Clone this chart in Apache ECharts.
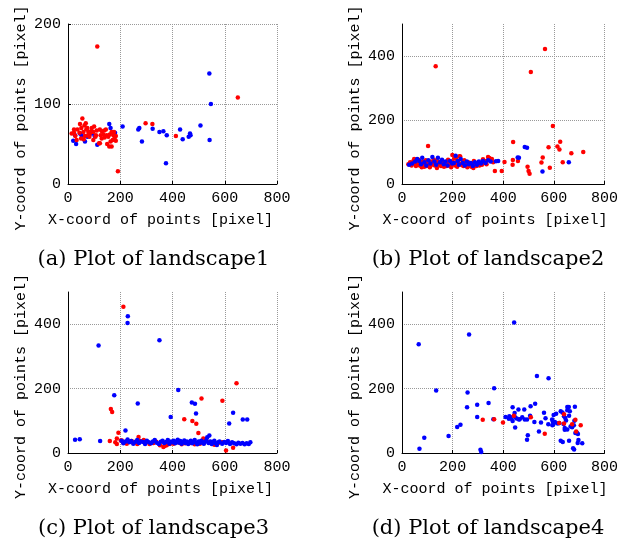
<!DOCTYPE html>
<html>
<head>
<meta charset="utf-8">
<script src="https://cdn.jsdelivr.net/npm/echarts@6/dist/echarts.min.js"></script>
<style>
  html, body { margin: 0; padding: 0; background: #fff; }
  #chart { width: 621px; height: 541px; }
</style>
</head>
<body>
<div id="chart"></div>
<script>
// x ticks shared by all panels
var xTicks = [0, 200, 400, 600, 800];

// landscape1
var redA = [
    [112,172],[650,108],[191,16],[413,60],[297,76],[323,75],
    [14,63],[23,64],[28,60],[23,68],[46,75],[55,82],[51,70],[44,64],[59,65],[68,76],
    [70,68],[78,65],[84,63],[77,61],[91,70],[100,72],[110,67],[105,59],[119,51],[122,51],
    [129,57],[135,62],[139,67],[145,68],[148,61],[154,59],[150,50],[158,47],[163,53],[167,65],
    [174,61],[171,55],[176,65],[183,60],[167,47],[183,54],[36,68],[63,73],[74,70],[82,59],
    [50,57],[33,55],[97,55],[107,61],[125,61],[122,68],[65,60],[97,65],[60,56],[88,66],
    [140,58],[160,62],[178,57],[130,66]
];
var blueA = [
    [20,54],[27,61],[31,50],[52,61],[65,53],[74,59],[91,63],[158,75],[163,70],[180,64],
    [112,49],[209,72],[269,68],[273,70],[283,53],[324,69],[350,65],[365,66],[378,61],[375,26],
    [429,68],[439,56],[462,59],[467,63],[469,61],[507,73],[541,138],[547,100],[542,55],[46,63],
    [102,60]
];

// landscape2
var redB = [
    [133,368],[565,422],[509,350],[596,181],[103,119],[439,131],[625,132],[614,117],[622,108],
    [579,115],[669,96],[716,100],[635,68],[556,83],[551,67],[584,51],[496,54],[500,41],[504,32],
    [438,75],[458,72],[437,60],[367,41],[394,41],[405,69],[345,81],[355,78],[199,91],[227,87],
    [320,77],[333,72],
    [25,62],[32,68],[38,58],[45,72],[50,64],[55,56],[58,70],[62,62],[66,76],[70,58],
    [74,66],[78,52],[82,70],[86,60],[90,64],[94,74],[98,56],[102,66],[106,62],[110,52],
    [114,70],[118,60],[122,66],[126,76],[130,58],[134,64],[138,50],[142,70],[146,60],[150,66],
    [154,56],[158,72],[162,62],[166,54],[170,68],[174,60],[178,64],[182,76],[186,58],[190,66],
    [194,52],[198,70],[202,62],[206,80],[210,58],[214,68],[218,54],[222,72],[226,62],[230,86],
    [234,60],[238,66],[242,56],[246,74],[250,60],[254,64],[258,52],[262,68],[266,58],[270,62],
    [274,54],[278,66],[282,50],[286,60],[290,64],[294,56],[298,62],[302,68],[306,58],[310,64],
    [316,60],[322,70],[328,66],[334,62],[340,84],[360,68],[48,78],[88,54],[132,72],[176,56],
    [214,82],[248,68],[284,72]
];
var blueB = [
    [485,116],[494,113],[457,83],[462,82],[555,39],[659,68],[380,72],[371,71],
    [28,60],[40,64],[52,70],[60,78],[68,72],[75,62],[80,82],[88,68],[96,58],[104,74],
    [112,64],[120,84],[128,70],[135,60],[142,82],[150,68],[158,76],[165,62],[172,70],[180,58],
    [190,72],[198,64],[205,66],[212,88],[220,72],[225,60],[232,78],[240,66],[248,58],[256,70],
    [264,62],[272,66],[280,56],[288,68],[296,60],[304,70],[312,64],[320,72],[330,66],[340,74],
    [350,70]
];

// landscape3
var redC = [
    [212,454],[645,217],[511,169],[591,162],[164,137],[169,127],[445,105],[476,99],[491,91],
    [499,62],[193,63],[270,50],[605,8],[632,16],[518,45],
    [160,37],[181,33],[187,28],[212,32],[206,39],[244,37],[250,31],[276,37],[301,34],[327,31],
    [352,24],[365,19],[378,24],[404,29],[435,27],[467,31],[505,29],[543,34],[575,31],[187,45],
    [202,39],[225,29],[232,36],[258,33],[265,28],[290,40],[312,28],[338,35],[370,22],[390,28],
    [420,33],[448,30],[485,27],[520,31],[560,26],[590,33]
];
var blueC = [
    [117,334],[229,425],[228,404],[350,350],[177,179],[267,154],[220,70],[422,196],[393,112],
    [474,157],[486,153],[490,123],[632,125],[617,92],[669,104],[686,104],[27,41],[45,43],[123,37],
    [205,38],[212,30],[220,36],[228,42],[235,33],[242,37],[250,29],[258,35],[265,40],[272,31],
    [280,36],[288,34],[295,28],[302,38],[310,33],[318,30],[325,36],[332,40],[340,32],[348,28],
    [355,35],[362,38],[368,31],[375,34],[382,40],[388,29],[395,36],[400,33],[405,38],[410,30],
    [415,35],[420,41],[425,32],[430,37],[435,29],[440,34],[445,39],[450,31],[455,36],[460,28],
    [465,33],[470,38],[475,30],[480,35],[485,40],[490,32],[495,27],[500,36],[505,31],[510,38],
    [515,33],[520,29],[525,35],[530,40],[533,49],[538,31],[541,54],[545,36],[550,28],[555,34],
    [560,38],[565,30],[570,25],[575,33],[580,36],[590,29],[598,34],[605,31],[612,37],[620,28],
    [628,33],[636,30],[645,27],[652,32],[660,29],[668,31],[676,27],[684,30],[692,28],[698,33]
];

// landscape4
var redD = [
    [319,103],[364,105],[399,95],[442,116],[509,111],[564,60],[621,93],[640,120],[640,92],
    [672,89],[685,103],[688,67],[706,86]
];
var blueD = [
    [66,338],[265,368],[443,405],[135,194],[259,188],[69,13],[88,47],[184,53],[218,81],[231,88],
    [257,142],[297,150],[297,112],[342,155],[364,201],[361,105],[437,142],[445,124],[447,79],
    [427,112],[460,135],[465,105],[475,111],[483,135],[485,104],[447,111],[422,106],[494,104],
    [506,116],[508,145],[494,41],[497,55],[526,153],[523,96],[533,239],[541,67],[549,95],
    [561,125],[567,108],[578,89],[579,232],[594,86],[599,118],[596,98],[609,122],[615,92],
    [621,93],[627,130],[634,126],[638,90],[640,114],[643,78],[635,34],[627,38],[645,109],
    [648,101],[653,133],[653,143],[643,72],[653,73],[660,116],[663,130],[666,82],[672,80],
    [659,143],[679,86],[681,100],[660,38],[676,15],[680,11],[685,62],[691,63],[695,59],[694,31],
    [697,40],[712,30],[683,144],[310,10],[313,3],[409,112],[424,114],[430,107],[437,99],[453,107],
    [462,104],[593,104],[598,89],[604,96]
];

var captions = ['(a) Plot of landscape1', '(b) Plot of landscape2',
                '(c) Plot of landscape3', '(d) Plot of landscape4'];
var xTitle = 'X-coord of points [pixel]';
var yTitle = 'Y-coord of points [pixel]';

var mono = 'Liberation Mono';

// panel boxes: left, top, width, height
var panels = [
    { box: [68, 24, 209, 160], yMax: 200, yStep: 100, red: redA, blue: blueA, redTop: true },
    { box: [402, 24, 210, 160], yMax: 500, yStep: 200, red: redB, blue: blueB, redTop: false },
    { box: [68, 292, 209, 161], yMax: 500, yStep: 200, red: redC, blue: blueC, redTop: false },
    { box: [402, 292, 210, 161], yMax: 500, yStep: 200, red: redD, blue: blueD, redTop: true }
];

var grids = [], xAxes = [], yAxes = [], series = [], graphics = [];

function axisCommon() {
    return {
        axisLine: { show: true, lineStyle: { color: '#000', width: 1 } },
        axisTick: { show: true, inside: true, length: 3, lineStyle: { color: '#000' } },
        splitLine: { show: true, showMinLine: false, showMaxLine: true,
                     lineStyle: { color: '#999', type: 'dotted', width: 1 } },
        axisLabel: { color: '#000', fontFamily: mono, fontSize: 15, margin: 7 }
    };
}

panels.forEach(function (p, i) {
    var b = p.box;
    grids.push({ left: b[0], top: b[1], width: b[2], height: b[3], containLabel: false });

    var xa = axisCommon();
    xa.type = 'value'; xa.gridIndex = i; xa.min = xTicks[0]; xa.max = xTicks[xTicks.length - 1];
    xa.interval = 200;
    xAxes.push(xa);

    var ya = axisCommon();
    ya.type = 'value'; ya.gridIndex = i; ya.min = 0; ya.max = p.yMax; ya.interval = p.yStep;
    if (p.yMax % p.yStep !== 0) {
        ya.axisLabel.showMaxLabel = false;
        ya.splitLine.showMaxLine = false;
        ya.axisTick.show = false;
    }
    yAxes.push(ya);

    var redS = { type: 'scatter', xAxisIndex: i, yAxisIndex: i, data: p.red,
                 symbolSize: 4.5, itemStyle: { color: '#ff0000', opacity: 1 }, silent: true };
    var blueS = { type: 'scatter', xAxisIndex: i, yAxisIndex: i, data: p.blue,
                  symbolSize: 4.5, itemStyle: { color: '#0000ff', opacity: 1 }, silent: true };
    if (p.redTop) { series.push(blueS, redS); } else { series.push(redS, blueS); }

    // axis titles and caption
    var cx = b[0] + b[2] / 2 - 12;
    graphics.push({
        type: 'text', x: cx, y: b[1] + b[3] + 36,
        style: { text: xTitle, font: '15px "' + mono + '"', fill: '#000',
                 textAlign: 'center', textVerticalAlign: 'middle' }
    });
    graphics.push({
        type: 'text', x: b[0] - 47, y: b[1] + b[3] / 2 + 14, rotation: Math.PI / 2,
        style: { text: yTitle, font: '15px "' + mono + '"', fill: '#000',
                 textAlign: 'center', textVerticalAlign: 'middle' }
    });
    graphics.push({
        type: 'text', x: b[0] + b[2] / 2 - 19, y: b[1] + b[3] + 76,
        style: { text: captions[i], font: '21px "DejaVu Serif"', fill: '#000',
                 textAlign: 'center', textVerticalAlign: 'middle' }
    });
});

var myChart = echarts.init(document.getElementById('chart'), null, { renderer: 'canvas' });
myChart.setOption({
    backgroundColor: '#fff',
    animation: false,
    grid: grids,
    xAxis: xAxes,
    yAxis: yAxes,
    series: series,
    graphic: graphics
});
</script>
</body>
</html>
